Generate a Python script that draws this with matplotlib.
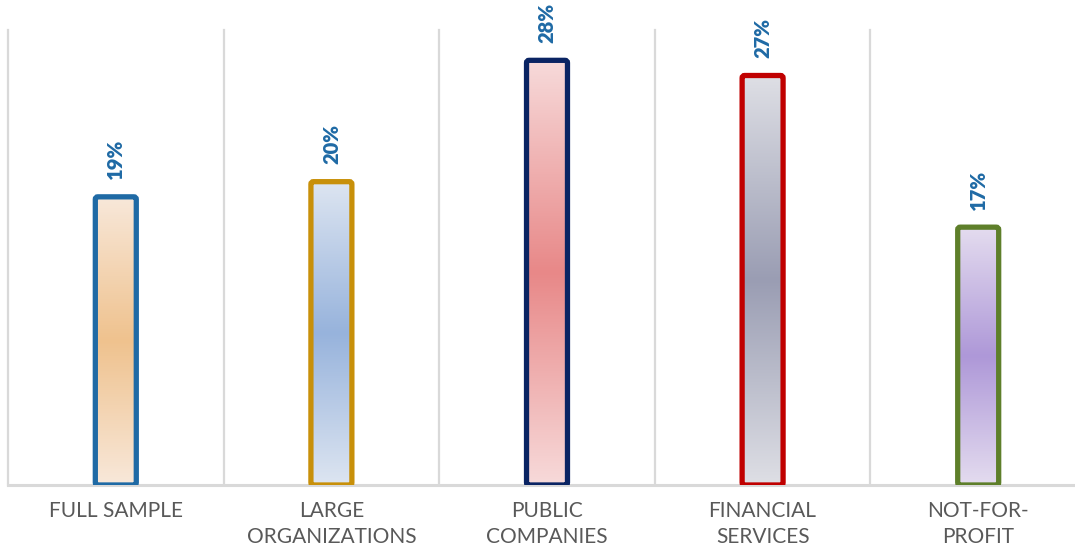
import matplotlib.pyplot as plt
import numpy as np
from matplotlib.colors import LinearSegmentedColormap
from matplotlib.patches import FancyBboxPatch

# data
categories = ['FULL SAMPLE', 'LARGE\nORGANIZATIONS', 'PUBLIC\nCOMPANIES',
              'FINANCIAL\nSERVICES', 'NOT-FOR-\nPROFIT']
values = [19, 20, 28, 27, 17]
labels = ['19%', '20%', '28%', '27%', '17%']

edge_colors = ['#1F6AA5', '#C8900A', '#0A2463', '#C00000', '#5E7F2A']
fill_ends = ['#F8E8DA', '#DDE5F1', '#F7DADA', '#DEDFE5', '#E4DCEF']
fill_mids = ['#EFC28E', '#97B3DC', '#E88888', '#9A9DB3', '#AE98D8']

fig = plt.figure(figsize=(10.75, 5.46), dpi=100)
ax = fig.add_axes([8 / 1075, 61 / 546, 1078 / 1075, 455 / 546])
ax.set_xlim(-0.5, 4.5)
ax.set_ylim(0, 30)
ax.axis('off')

# separators and baseline
for x in np.arange(-0.5, 5, 1):
    ax.plot([x, x], [0, 30], color='#D9D9D9', lw=1.6, zorder=1, clip_on=False)
ax.plot([-0.5, 4.5], [0, 0], color='#D9D9D9', lw=2.2, zorder=1, clip_on=False)

bw = 0.19
for i, v in enumerate(values):
    cmap = LinearSegmentedColormap.from_list(
        'g%d' % i, [fill_ends[i], fill_mids[i], fill_ends[i]])
    grad = np.linspace(0, 1, 256).reshape(-1, 1)
    im = ax.imshow(grad, cmap=cmap, aspect='auto', extent=(i - bw / 2, i + bw / 2, 0, v),
                   origin='lower', zorder=2)
    box = FancyBboxPatch((i - bw / 2, 0), bw, v,
                         boxstyle='round,pad=0,rounding_size=0.012',
                         mutation_aspect=30 / 5 * 455 / 1078 * 5 / 0.9,
                         fc='none', ec=edge_colors[i], lw=3.8, zorder=3,
                         transform=ax.transData)
    ax.add_patch(box)
    im.set_clip_path(box)
    ax.text(i, v + 1.15, labels[i], rotation=90, ha='center', va='bottom',
            fontsize=14.5, fontweight='heavy', color='#1F6AA5',
            family=['Lato', 'DejaVu Sans'])

for i, c in enumerate(categories):
    ax.text(i, -1.05, c, ha='center', va='top', fontsize=15, color='#595959',
            family=['Lato', 'DejaVu Sans'], linespacing=1.4)

fig.savefig('out.png', dpi=100)
